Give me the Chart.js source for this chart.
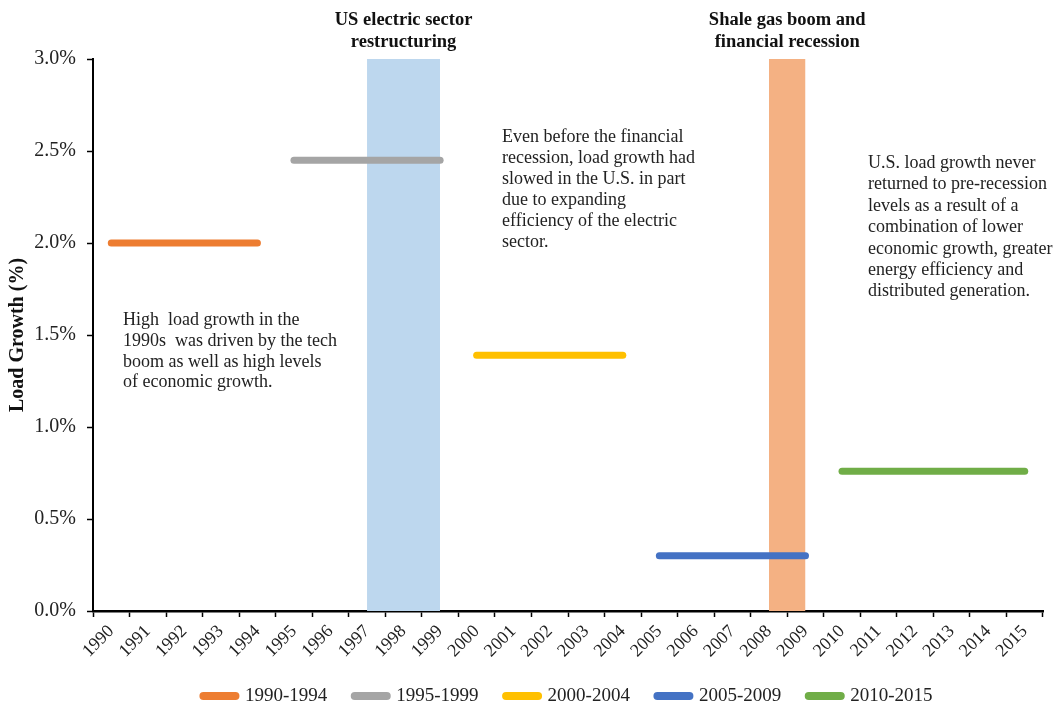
<!DOCTYPE html>
<html>
<head>
<meta charset="utf-8">
<title>Load Growth</title>
<script src="https://cdn.jsdelivr.net/npm/chart.js@4/dist/chart.umd.min.js"></script>
<style>
  html, body { margin: 0; padding: 0; background: #ffffff; }
  #wrap { width: 1060px; height: 705px; }
</style>
</head>
<body>
<div id="wrap"><canvas id="chart" width="1060" height="705"></canvas></div>
<script>
// Years on the category axis
const years = ['1990','1991','1992','1993','1994','1995','1996','1997','1998','1999',
               '2000','2001','2002','2003','2004','2005','2006','2007','2008','2009',
               '2010','2011','2012','2013','2014','2015'];

// Average annual load growth (%) per period
const periodLabels = ['1990-1994', '1995-1999', '2000-2004', '2005-2009', '2010-2015'];
const periodStart  = ['1990', '1995', '2000', '2005', '2010'];
const periodEnd    = ['1994', '1999', '2004', '2009', '2015'];
const periodGrowth = [2.00, 2.45, 1.39, 0.30, 0.76];
const periodColors = ['#ED7D31', '#A5A5A5', '#FFC000', '#4472C4', '#70AD47'];

// Highlighted events (shaded spans)
const eventTitles = [['US electric sector', 'restructuring'], ['Shale gas boom and', 'financial recession']];
const eventStart  = ['1997', '2008'];
const eventEnd    = ['1999', '2009'];
const eventTop    = [3.0, 3.0];
const eventColors = ['#BDD7EE', '#F4B183'];

// Value axis ticks
const yTicks = [0.0, 0.5, 1.0, 1.5, 2.0, 2.5, 3.0];

// Notes written inside the plot
const notes = [
  { x: 123, y: 325, lh: 20.8, lines: ['High  load growth in the', '1990s  was driven by the tech', 'boom as well as high levels', 'of economic growth.'] },
  { x: 502, y: 142, lh: 21, lines: ['Even before the financial', 'recession, load growth had', 'slowed in the U.S. in part', 'due to expanding', 'efficiency of the electric', 'sector.'] },
  { x: 868, y: 168, lh: 21.4, lines: ['U.S. load growth never', 'returned to pre-recession', 'levels as a result of a', 'combination of lower', 'economic growth, greater', 'energy efficiency and', 'distributed generation.'] }
];

const SERIF = '"Liberation Serif", "Times New Roman", serif';

function spanData(start, end, value) {
  const s = years.indexOf(start), e = years.indexOf(end);
  return years.map((_, i) => (i >= s && i <= e ? value : null));
}

const lineSets = periodLabels.map((label, k) => ({
  type: 'line',
  label: label,
  data: spanData(periodStart[k], periodEnd[k], periodGrowth[k]),
  borderColor: periodColors[k],
  backgroundColor: periodColors[k],
  borderWidth: 7,
  borderCapStyle: 'round',
  pointRadius: 0,
  pointHoverRadius: 0,
  pointStyle: 'line',
  spanGaps: false,
  fill: false
}));

const bandSets = eventTitles.map((t, k) => ({
  type: 'line',
  label: t.join(' '),
  data: spanData(eventStart[k], eventEnd[k], eventTop[k]),
  borderWidth: 0,
  borderColor: 'rgba(0,0,0,0)',
  backgroundColor: eventColors[k],
  pointRadius: 0,
  pointHoverRadius: 0,
  spanGaps: false,
  fill: 'origin'
}));

// Event headings above the shaded spans, plus free text notes
const textPlugin = {
  id: 'textNotes',
  afterDraw(chart) {
    const ctx = chart.ctx;
    const xs = chart.scales.x;
    ctx.save();
    ctx.fillStyle = '#111';
    ctx.textAlign = 'center';
    ctx.textBaseline = 'alphabetic';
    ctx.font = 'bold 18.5px ' + SERIF;
    eventTitles.forEach((lines, k) => {
      const x0 = xs.getPixelForValue(years.indexOf(eventStart[k]));
      const x1 = xs.getPixelForValue(years.indexOf(eventEnd[k]));
      const cx = (x0 + x1) / 2;
      lines.forEach((ln, j) => ctx.fillText(ln, cx, 25 + j * 22));
    });
    ctx.font = '18px ' + SERIF;
    ctx.textAlign = 'left';
    ctx.fillStyle = '#222';
    notes.forEach(n => {
      n.lines.forEach((ln, j) => ctx.fillText(ln, n.x, n.y + j * n.lh));
    });
    ctx.restore();
  }
};

new Chart(document.getElementById('chart'), {
  type: 'line',
  data: {
    labels: years,
    datasets: lineSets.concat(bandSets)
  },
  options: {
    responsive: false,
    animation: false,
    events: [],
    layout: { padding: { top: 59, right: 17, bottom: -10.5, left: 0 } },
    plugins: {
      tooltip: { enabled: false },
      title: { display: false },
      legend: {
        display: true,
        position: 'bottom',
        fullSize: false,
        labels: {
          font: { family: SERIF, size: 19 },
          color: '#222',
          usePointStyle: true,
          pointStyle: 'line',
          pointStyleWidth: 32,
          padding: 27.5,
          filter: (item) => item.datasetIndex < periodLabels.length,
          generateLabels: (chart) => {
            const items = Chart.defaults.plugins.legend.labels.generateLabels(chart);
            items.forEach(it => { it.lineWidth = 8; it.lineCap = 'round'; it.pointStyle = 'line'; });
            return items;
          }
        }
      }
    },
    scales: {
      x: {
        type: 'category',
        offset: true,
        grid: { display: true, offset: true, drawOnChartArea: false, drawTicks: true, tickLength: 6, tickColor: '#000', tickWidth: 1.5 },
        border: { display: true, color: '#000', width: 2.5 },
        ticks: {
          autoSkip: false,
          maxRotation: 45,
          minRotation: 45,
          padding: 4,
          color: '#222',
          font: { family: SERIF, size: 18 }
        },
        afterFit: (s) => { s.height = 48; }
      },
      y: {
        min: 0,
        max: 3,
        afterBuildTicks: (s) => { s.ticks = yTicks.map(v => ({ value: v })); },
        grid: { display: true, drawOnChartArea: false, drawTicks: true, tickLength: 6, tickColor: '#000', tickWidth: 1.5 },
        border: { display: true, color: '#000', width: 2 },
        ticks: {
          padding: 11,
          color: '#222',
          font: { family: SERIF, size: 20 },
          callback: (v) => Number(v).toFixed(1) + '%'
        },
        title: {
          display: true,
          text: 'Load Growth (%)',
          color: '#111',
          font: { family: SERIF, size: 20, weight: 'bold' },
          padding: { top: 6, bottom: 0 }
        },
        afterFit: (s) => { s.width = 93; }
      }
    }
  },
  plugins: [textPlugin]
});
</script>
</body>
</html>
